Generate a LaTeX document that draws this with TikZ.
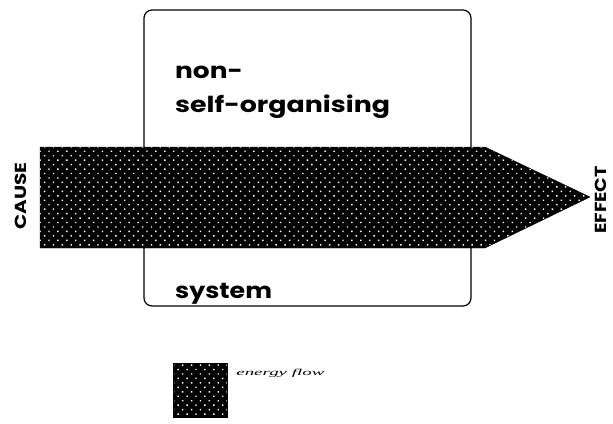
\documentclass[tikz,border=0pt]{standalone}
\usepackage{fontspec}
\setmainfont{Poppins}
\newfontfamily\legendfont{Liberation Serif}
\usetikzlibrary{patterns.meta, positioning}
\tikzset{
    sysbox/.style={draw, line width=1.2pt, rounded corners=8pt, minimum width=327pt, minimum height=296pt, inner sep=0pt},
    dotfill/.style={preaction={fill=black}, pattern={Dots[distance=6.3pt, angle=45, radius=1pt]}, pattern color=white},
    word/.style={font=\bfseries\fontsize{22}{22}\selectfont, anchor=base west, inner sep=0pt},
    tag/.style={font=\bfseries\fontsize{16}{16}\selectfont, rotate=90, inner sep=0pt}
}
\begin{document}
\begin{tikzpicture}[x=1pt, y=-1pt]
    \useasboundingbox (0,0) rectangle (613,423);
    % the system
    \node[sysbox] (sys) at (307.5,158) {};
    \node[word] (non) at (175,78) {\scalebox{1.2}[1]{non-}};
    \node[word] (self) at (175,112) {\scalebox{1.22}[1]{self-organising}};
    \node[word] (syst) at (175,298) {\scalebox{1.15}[1]{system}};
    % energy flow through the system
    \coordinate (tail) at (40,197);
    \coordinate (tip) at (590,197);
    \draw[dotfill] (40,147) -- (485,147) -- (tip) -- (485,248) -- (40,248) -- cycle;
    \node[tag] (cause) at (21,196) {\scalebox{1.25}[1]{CAUSE}};
    \node[tag] (effect) at (601,200) {\scalebox{1.2}[1]{EFFECT}};
    % legend
    \node[dotfill, draw, minimum size=54pt, inner sep=0pt] (key) at (200,390) {};
    \node[right=9pt of key.north east, anchor=west, font=\legendfont\itshape\fontsize{9}{9}\selectfont, inner sep=0pt, yshift=-10pt] (keytext) {\scalebox{2.1}[1]{energy flow}};
\end{tikzpicture}
\end{document}
